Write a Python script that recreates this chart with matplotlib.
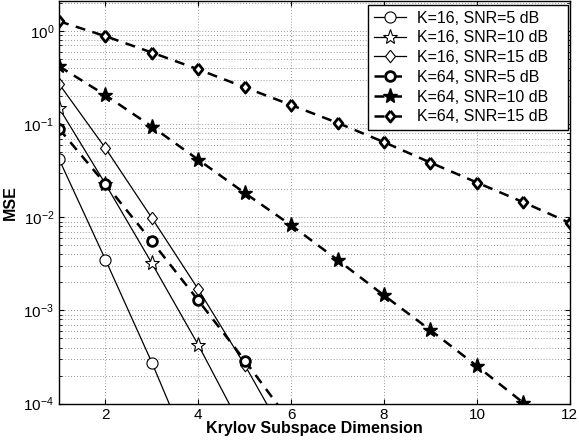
import numpy as np
import matplotlib.pyplot as plt

plt.rcParams['font.family'] = ['Liberation Sans', 'DejaVu Sans']
plt.rcParams['mathtext.fontset'] = 'custom'
plt.rcParams['mathtext.rm'] = 'Liberation Sans'
plt.rcParams['mathtext.it'] = 'Liberation Sans:italic'

# values (last point of the K=16 / K=64 SNR=5 curves lies below the axis)
x_k16_snr5 = [1, 2, 3, 4]
mse_k16_snr5 = [0.042, 0.0035, 0.000275, 0.000018]
x_k16_snr10 = [1, 2, 3, 4, 5]
mse_k16_snr10 = [0.149, 0.0227, 0.0032, 0.000425, 0.000048]
x_k16_snr15 = [1, 2, 3, 4, 5, 6]
mse_k16_snr15 = [0.27, 0.055, 0.0098, 0.00168, 0.00026, 0.000034]
x_k64_snr5 = [1, 2, 3, 4, 5, 6]
mse_k64_snr5 = [0.089, 0.0227, 0.0055, 0.00128, 0.00029, 0.000062]
x_k64_snr10 = [1, 2, 3, 4, 5, 6, 7, 8, 9, 10, 11]
mse_k64_snr10 = [0.417, 0.204, 0.094, 0.0414, 0.0182, 0.0082, 0.00348,
                 0.00145, 0.000614, 0.000253, 0.000102]
x_k64_snr15 = [1, 2, 3, 4, 5, 6, 7, 8, 9, 10, 11, 12]
mse_k64_snr15 = [1.27, 0.877, 0.586, 0.386, 0.248, 0.16, 0.103, 0.064,
                 0.0386, 0.0236, 0.0145, 0.0087]

# MATLAB-like diamond (wider than matplotlib's 'd')
diamond = [(0, 1), (0.8, 0), (0, -1), (-0.8, 0), (0, 1)]

fig = plt.figure(figsize=(5.79, 4.44), dpi=100)
ax = fig.add_axes([0.102, 0.091, 0.882, 0.907])

thin = dict(color='black', linewidth=0.9, markersize=8, markerfacecolor='white',
            markeredgecolor='black', markeredgewidth=0.8)
thick = dict(color='black', linewidth=1.8, linestyle=(0, (4, 3)), markersize=7,
             markeredgecolor='black', markeredgewidth=2.0)

ax.semilogy(x_k16_snr5, mse_k16_snr5, marker='o', label='K=16, SNR=5 dB', **thin)
ax.semilogy(x_k16_snr10, mse_k16_snr10, marker='*', label='K=16, SNR=10 dB',
            **{**thin, 'markersize': 11})
ax.semilogy(x_k16_snr15, mse_k16_snr15, marker=diamond, label='K=16, SNR=15 dB',
            **{**thin, 'markersize': 9})
ax.semilogy(x_k64_snr5, mse_k64_snr5, marker='o', markerfacecolor='white',
            label='K=64, SNR=5 dB', **thick)
ax.semilogy(x_k64_snr10, mse_k64_snr10, marker='*', markerfacecolor='black',
            label='K=64, SNR=10 dB', **{**thick, 'markersize': 11, 'markeredgewidth': 1.0})
ax.semilogy(x_k64_snr15, mse_k64_snr15, marker=diamond, markerfacecolor='white',
            label='K=64, SNR=15 dB', **{**thick, 'markersize': 8})

ax.set_xlim(1, 12)
ax.set_ylim(1e-4, 2.1)
ax.set_xticks([2, 4, 6, 8, 10, 12])
ax.grid(True, which='major', linestyle=(0, (1, 2.5)), color='#777777', linewidth=0.6)
ax.grid(True, which='minor', axis='y', linestyle=(0, (1, 2.5)), color='#777777', linewidth=0.6)
ax.tick_params(which='both', direction='in', top=True, right=True, labelsize=11)
for s in ax.spines.values():
    s.set_linewidth(1.0)

ax.set_xlabel('Krylov Subspace Dimension', fontweight='bold', fontsize=11.5, labelpad=-1)
ax.set_ylabel('MSE', fontweight='bold', fontsize=11.5, labelpad=4)

leg = ax.legend(loc='upper left', bbox_to_anchor=(0.605, 0.71, 0.391, 0.28),
                mode='expand', borderaxespad=0, fontsize=11.5, frameon=True,
                fancybox=False, framealpha=1, edgecolor='black', handlelength=2.0,
                labelspacing=0.3, borderpad=0.35, handletextpad=0.7)
leg.get_frame().set_linewidth(1.0)

fig.savefig('out.png', dpi=100)
